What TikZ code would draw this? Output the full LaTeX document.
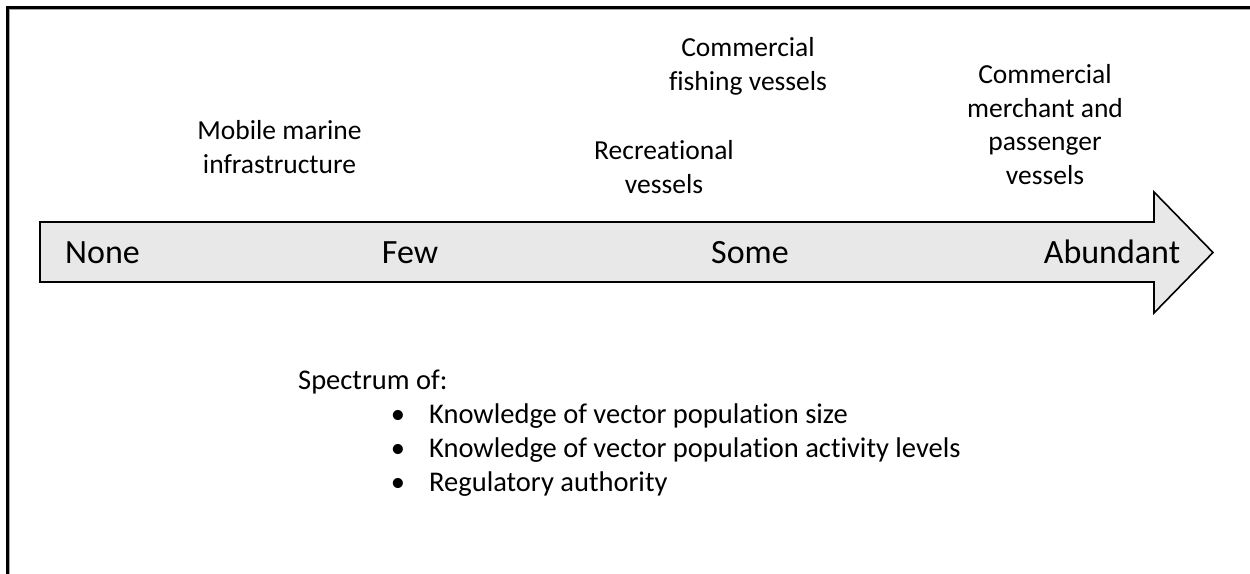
\documentclass[tikz,border=0pt]{standalone}
\usepackage{fontspec}
\setmainfont{Carlito}[Ligatures=NoCommon]
\begin{document}
\begin{tikzpicture}[x=1pt,y=-1pt,
  lbl/.style={inner sep=0pt,anchor=base,align=center,font=\fontsize{27.5}{33.5}\selectfont},
  levellbl/.style={inner sep=0pt,anchor=base,font=\fontsize{34}{40}\selectfont},
  body/.style={inner sep=0pt,anchor=base west,font=\fontsize{28.5}{34}\selectfont},
  frameline/.style={line width=2.6pt,black},
  arrowshape/.style={draw=black,line width=1.6pt,fill=gray!18,line join=miter}]
\useasboundingbox (0,0) rectangle (1250,573);
% frame (cropped)
\draw[gray!70,line width=1pt] (9.4,575) -- (9.4,9.4) -- (1252,9.4);
\draw[frameline] (7.2,575) -- (7.2,7.2) -- (1252,7.2);
% big arrow
\draw[arrowshape] (40,222) -- (1154,222) -- (1154,192) -- (1213,252.5) -- (1154,313) -- (1154,282) -- (40,282) -- cycle;
\node[levellbl,anchor=base west] (none) at (65,263) {None};
\node[levellbl] (few) at (410,263) {Few};
\node[levellbl] (some) at (750,263) {Some};
\node[levellbl] (abundant) at (1112,263) {Abundant};
% category labels (anchor base = last line)
\node[lbl] (mobile) at (279.5,173) {Mobile marine\\infrastructure};
\node[lbl] (recre) at (664,193) {Recreational\\vessels};
\node[lbl] (fishing) at (748,90) {Commercial\\fishing vessels};
\node[lbl] (merchant) at (1045,184) {Commercial\\merchant and\\passenger\\vessels};
% spectrum list
\node[body] (spec) at (298,389) {Spectrum of:};
\node[body,anchor=base] (b1) at (398,423) {\textbullet};
\node[body,anchor=base] (b2) at (398,457) {\textbullet};
\node[body,anchor=base] (b3) at (398,491) {\textbullet};
\node[body] (k1) at (429,423) {Knowledge of vector population size};
\node[body] (k2) at (429,457) {Knowledge of vector population activity levels};
\node[body] (k3) at (429,491) {Regulatory authority};
\end{tikzpicture}
\end{document}
